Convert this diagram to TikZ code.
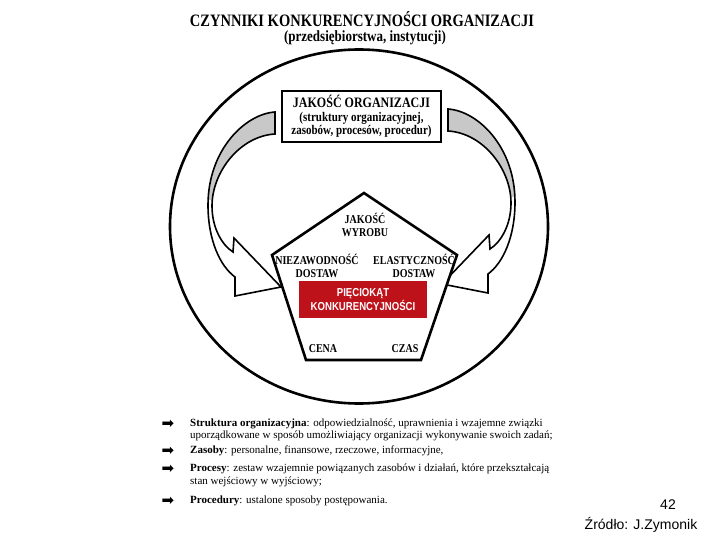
\documentclass[tikz,border=0pt]{standalone}
\usepackage{graphicx}
\usepackage{fontspec}
\setmainfont{Liberation Serif}
\newfontfamily\arialfont{Liberation Sans}
\newfontfamily\dejavufont{DejaVu Sans}
\usetikzlibrary{positioning}
\definecolor{backgray}{RGB}{200,200,200}
\definecolor{pentred}{RGB}{190,18,26}
\tikzset{
  ring/.style={draw=black, line width=2.6pt},
  orgbox/.style={
    draw=black,
    line width=2.2pt,
    fill=white,
    minimum width=159pt,
    minimum height=51pt,
    inner sep=0pt,
    align=center
  },
  ribbon/.style={draw=black, line width=1.6pt, line join=miter},
  pentagon/.style={draw=black, line width=2.6pt, fill=white, line join=miter},
  redbox/.style={
    fill=pentred,
    minimum width=128pt,
    minimum height=37pt,
    inner sep=0pt,
    align=center,
    text=white,
    font=\arialfont\bfseries\fontsize{9.6}{12.5}\selectfont
  },
  plabel/.style={font=\bfseries\fontsize{10}{13}\selectfont, align=center, inner sep=0pt},
  title/.style={font=\bfseries\fontsize{14.5}{16}\selectfont, inner sep=0pt},
  itemline/.style={anchor=west, inner sep=0pt, font=\fontsize{11}{12}\selectfont},
  itemarrow/.style={inner sep=0pt, font=\dejavufont\fontsize{15}{15}\selectfont},
  footer/.style={inner sep=0pt, font=\arialfont\fontsize{14}{16}\selectfont}
}
\newcommand{\tall}[1]{\scalebox{1}[1.2]{#1}}
\newcommand{\ribbon}[1]{%
  \path[#1] (275,112) .. controls (245,114) and (208,150) .. (208,205)
    .. controls (208,240) and (220,266) .. (235,277) -- (235,296) -- (281,287)
    -- (234,238) -- (233,252) .. controls (222,245) and (212,228) .. (212,206)
    .. controls (212,172) and (240,136) .. (275,134) -- cycle;}
\newcommand{\curvedarrow}{%
  \ribbon{fill=white}
  \begin{scope}
    \clip (150,100) rectangle (300,200);
    \ribbon{fill=backgray}
  \end{scope}
  \ribbon{ribbon}}

\begin{document}
\begin{tikzpicture}[x=1pt, y=-1pt]
  \useasboundingbox (0,0) rectangle (720,540);

  % -------------------------------------------------------------------
  % title
  % -------------------------------------------------------------------
  \node[title] (title) at (362,19) {\tall{CZYNNIKI KONKURENCYJNOŚCI ORGANIZACJI}};
  \node[title, font=\bfseries\fontsize{13}{15}\selectfont] (subtitle) at (365,38) {\tall{(przedsiębiorstwa, instytucji)}};

  % -------------------------------------------------------------------
  % ring, arrows, organisation box
  % -------------------------------------------------------------------
  \draw[ring] (359,226.5) ellipse [x radius=189pt, y radius=177pt];
  \curvedarrow
  \begin{scope}[xshift=723pt, xscale=-1, yshift=3pt]
    \curvedarrow
  \end{scope}
  \node[orgbox, font=\bfseries\fontsize{11}{13.5}\selectfont] (org) at (361.5,116.5) {%
    {\fontsize{12}{13.5}\selectfont\tall{JAKOŚĆ ORGANIZACJI}}\\
    \tall{(struktury organizacyjnej,}\\
    \tall{zasobów, procesów, procedur)}};

  % -------------------------------------------------------------------
  % pentagon
  % -------------------------------------------------------------------
  \coordinate (ptop) at (364,193);
  \coordinate (pul) at (272,255);
  \coordinate (pur) at (457,255);
  \coordinate (pbr) at (421,360);
  \coordinate (pbl) at (306,360);
  \draw[pentagon] (ptop) -- (pur) -- (pbr) -- (pbl) -- (pul) -- cycle;
  \node[redbox] (core) at (363,299.5) {\tall{PIĘCIOKĄT}\\\tall{KONKURENCYJNOŚCI}};
  \node[plabel] (jakosc) at (365,225) {\tall{JAKOŚĆ}\\\tall{WYROBU}};
  \node[plabel] (niezaw) at (317,266) {\tall{NIEZAWODNOŚĆ}\\\tall{DOSTAW}};
  \node[plabel] (elast) at (414,266) {\tall{ELASTYCZNOŚĆ}\\\tall{DOSTAW}};
  \node[plabel] (cena) at (323,349) {\tall{CENA}};
  \node[plabel] (czas) at (405,349) {\tall{CZAS}};

  % -------------------------------------------------------------------
  % definitions
  % -------------------------------------------------------------------
  \node[itemarrow] (a1) at (168,424) {➡};
  \node[itemline] (d1a) at (190,424) {\textbf{Struktura organizacyjna}: odpowiedzialność, uprawnienia i wzajemne związki};
  \node[itemline] (d1b) at (190,436) {uporządkowane w sposób umożliwiający organizacji wykonywanie swoich zadań;};
  \node[itemarrow] (a2) at (168,451) {➡};
  \node[itemline] (d2) at (190,451) {\textbf{Zasoby}: personalne, finansowe, rzeczowe, informacyjne,};
  \node[itemarrow] (a3) at (168,469) {➡};
  \node[itemline] (d3a) at (190,469) {\textbf{Procesy}: zestaw wzajemnie powiązanych zasobów i działań, które przekształcają};
  \node[itemline] (d3b) at (190,482) {stan wejściowy w wyjściowy;};
  \node[itemarrow] (a4) at (168,501) {➡};
  \node[itemline] (d4) at (190,501) {\textbf{Procedury}: ustalone sposoby postępowania.};

  % -------------------------------------------------------------------
  % footer
  % -------------------------------------------------------------------
  \node[footer] (page) at (668,505) {42};
  \node[footer] (source) at (641,525) {Źródło: J.Zymonik};
\end{tikzpicture}
\end{document}
